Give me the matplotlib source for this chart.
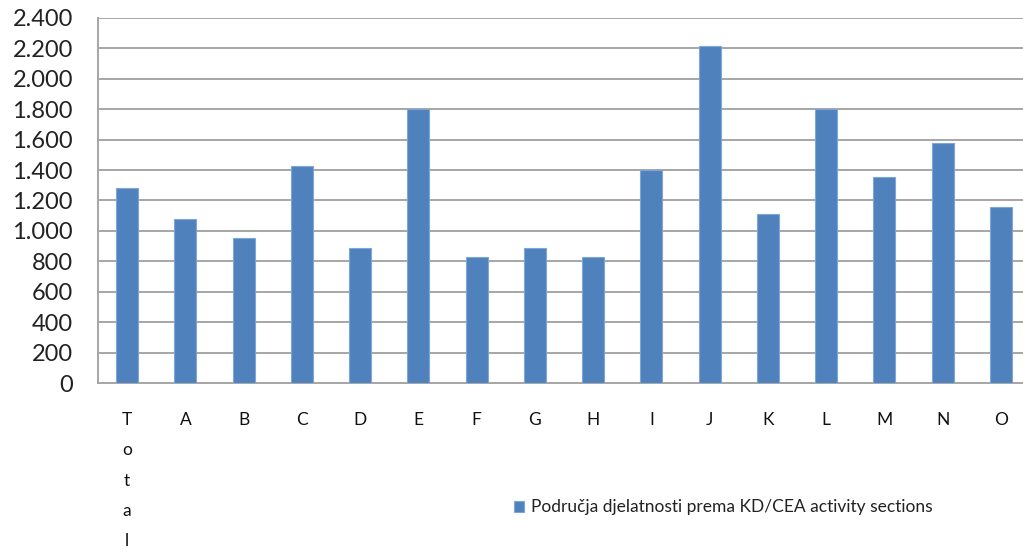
import matplotlib
matplotlib.use("Agg")
import matplotlib.pyplot as plt
from matplotlib.ticker import FuncFormatter, MultipleLocator
import numpy as np

categories = ["Total", "A", "B", "C", "D", "E", "F", "G", "H",
              "I", "J", "K", "L", "M", "N", "O"]
values = [1284, 1078, 951, 1425, 890, 1799, 828, 890, 828,
          1403, 2213, 1113, 1799, 1352, 1576, 1155]
series_name = "Područja djelatnosti prema KD/CEA activity sections"

plt.rcParams['font.family'] = ['Lato', 'DejaVu Sans']

fig = plt.figure(figsize=(10.23, 5.58), dpi=100)
# plot area runs a little past the right edge of the picture
ax = fig.add_axes([98 / 1023, 1 - 383 / 558, 932 / 1023, 365 / 558])

x = np.arange(len(categories))
bars = ax.bar(x, values, width=0.38, color="#4F81BD",
              edgecolor="#7FA6D6", linewidth=0.8, zorder=3,
              label=series_name)

ax.set_xlim(-0.5, len(categories) - 0.5)
ax.set_ylim(0, 2400)
ax.yaxis.set_major_locator(MultipleLocator(200))
ax.yaxis.set_major_formatter(
    FuncFormatter(lambda v, p: "{:,.0f}".format(v).replace(",", ".")))
ax.grid(axis="y", color="#A6A6A6", linewidth=1.4, zorder=0)

# vertical stacked text for the first label, like the original
labels = ["\n".join(c) if len(c) > 1 else c for c in categories]
ax.set_xticks(x)
ax.set_xticklabels(labels, fontsize=12.5, linespacing=2.1, va="top",
                   color="#111111")
ax.tick_params(axis="x", length=0, pad=21)
ax.tick_params(axis="y", length=0, pad=18, labelsize=17, colors="#222222")

for side in ["top", "right"]:
    ax.spines[side].set_visible(False)
ax.spines["left"].set_color("#A6A6A6")
ax.spines["bottom"].set_color("#A6A6A6")
ax.spines["left"].set_linewidth(1.4)
ax.spines["bottom"].set_linewidth(1.4)

fig.legend(handles=[bars], labels=[series_name], loc="center left",
           bbox_to_anchor=(0.487, 0.091), frameon=False, fontsize=12.5,
           handlelength=0.6, handleheight=0.6, handletextpad=0.4,
           labelcolor="#222222")

fig.savefig("out.png", dpi=100)
